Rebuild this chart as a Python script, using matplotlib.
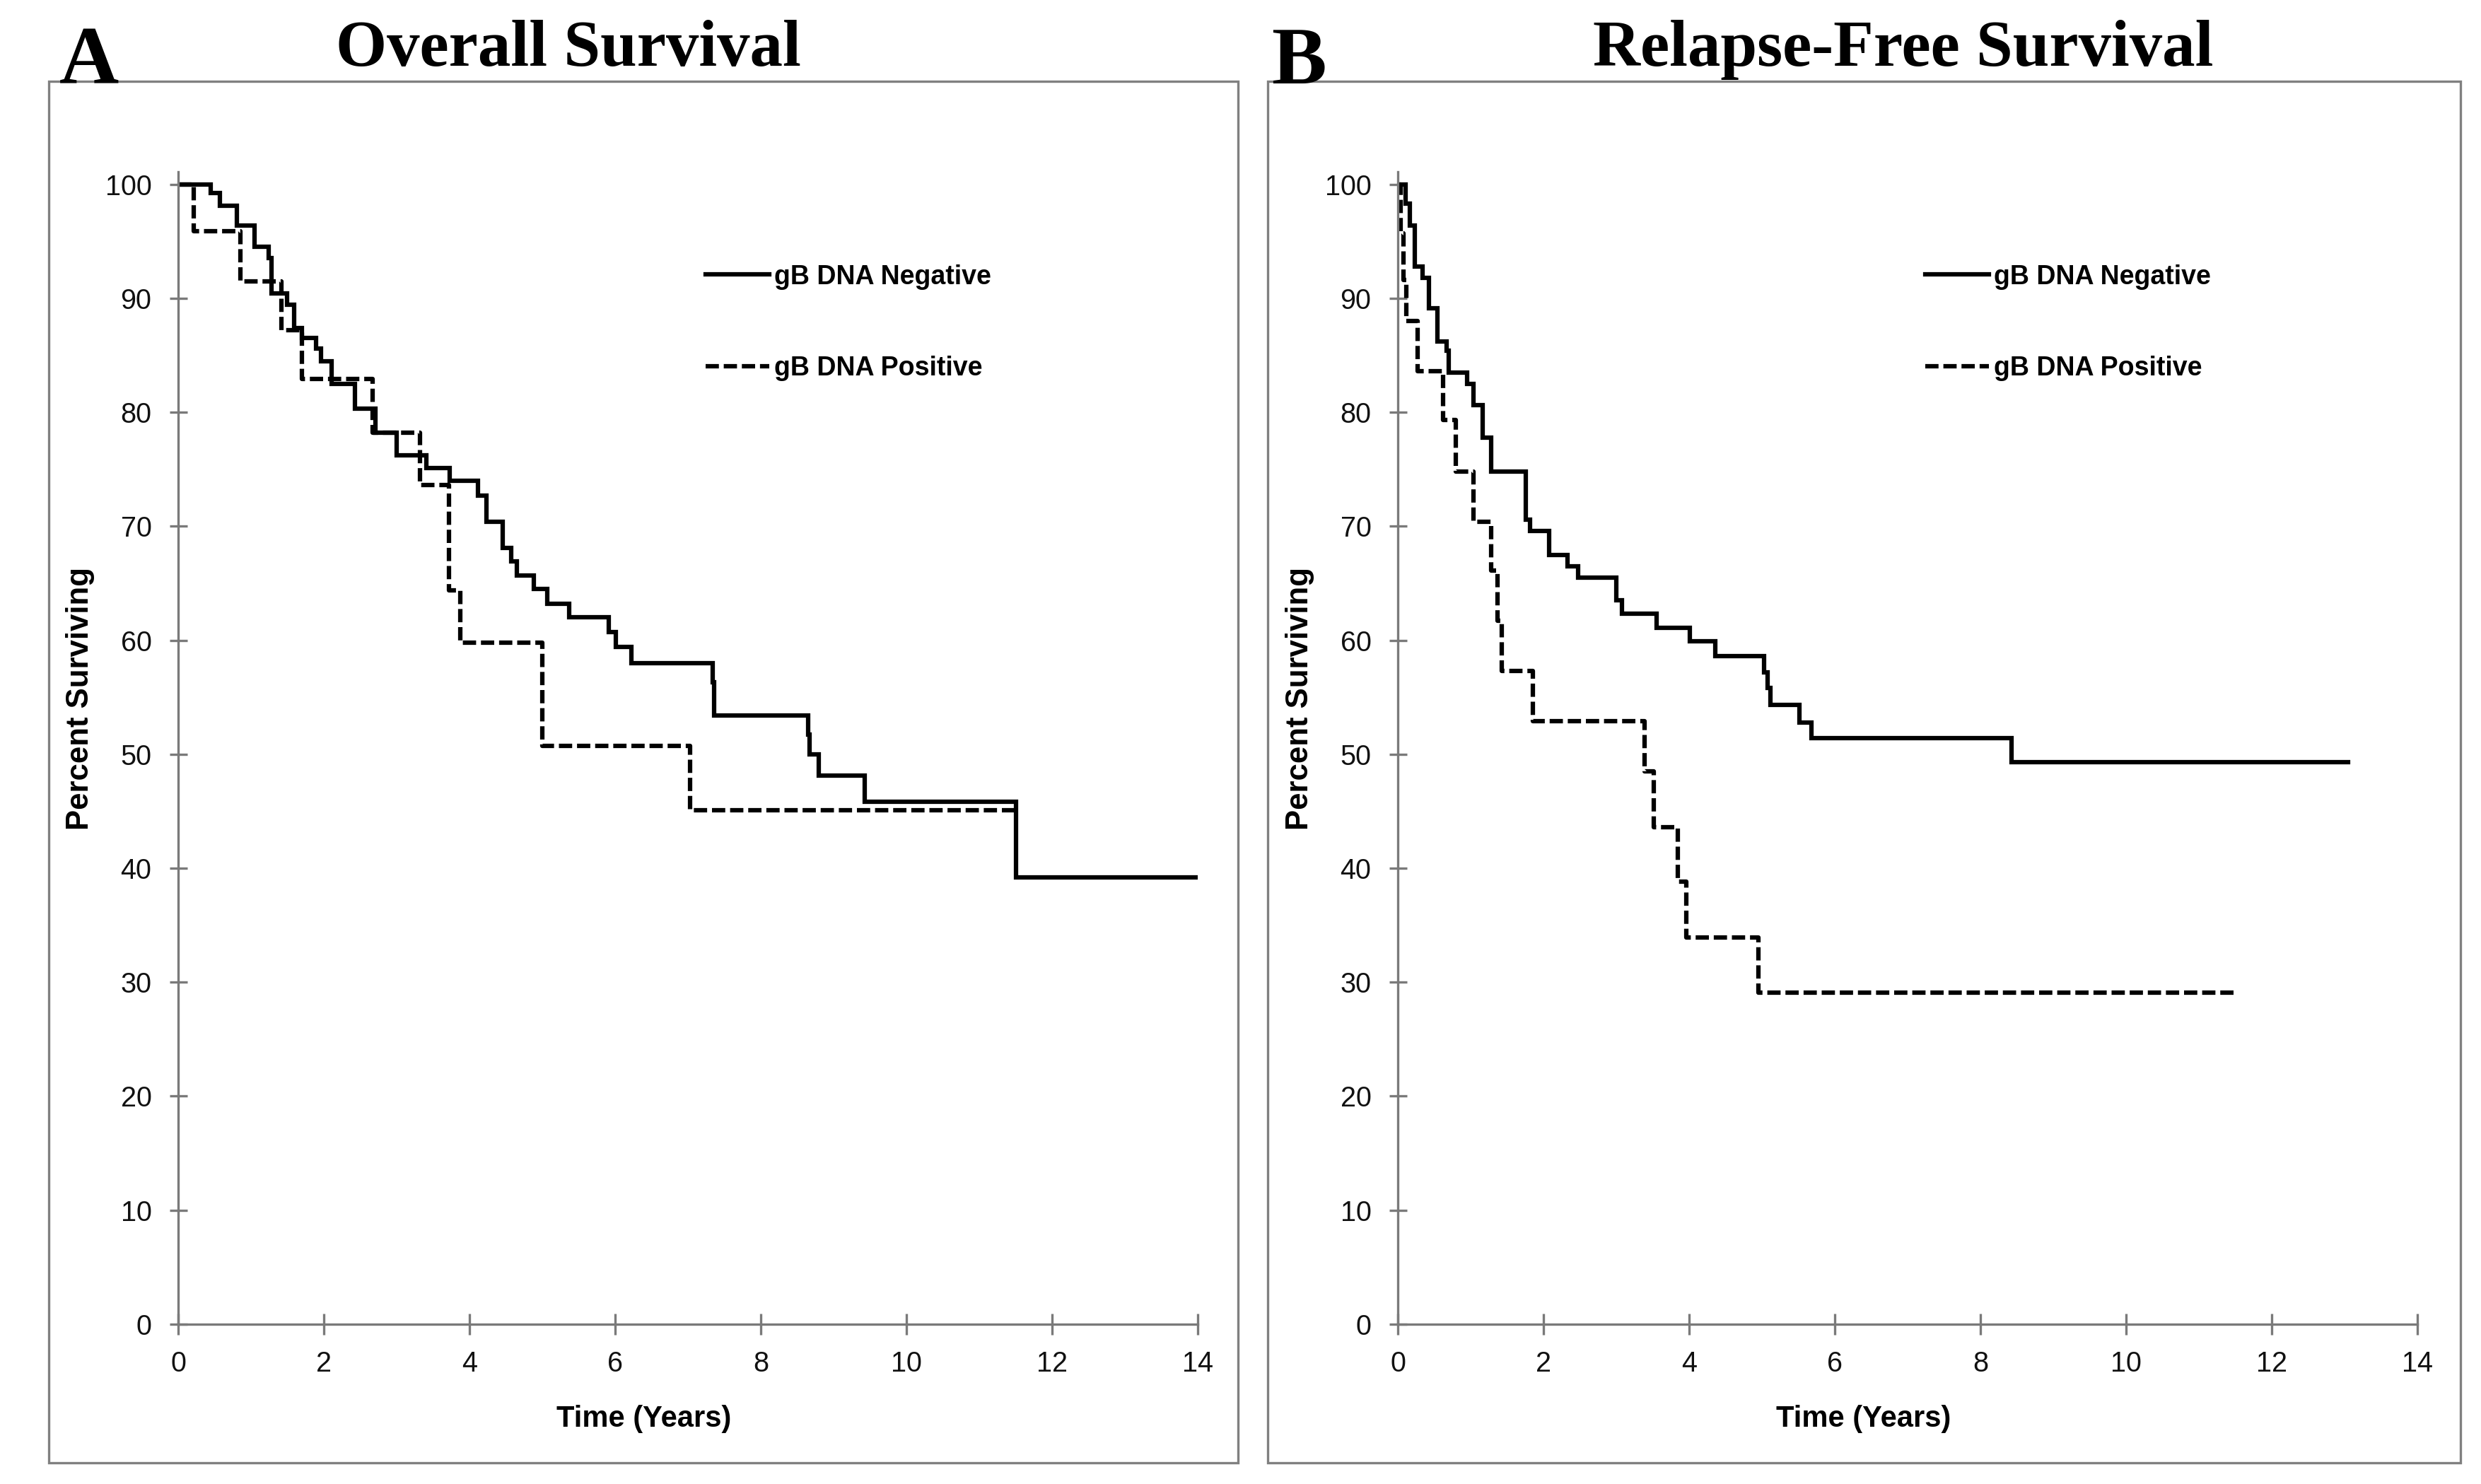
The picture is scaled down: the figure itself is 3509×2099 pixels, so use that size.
import matplotlib
matplotlib.use("Agg")
import matplotlib.pyplot as plt
from matplotlib.patches import Rectangle

# Overall survival, step curves (time in years, percent surviving)
os_neg_time = [0, 0.45, 0.57, 0.81, 1.05, 1.24, 1.28, 1.50, 1.59, 1.70, 1.89, 1.96,
               2.11, 2.43, 2.71, 3.00, 3.41, 3.73, 4.12, 4.23, 4.46, 4.57, 4.65,
               4.88, 5.07, 5.37, 5.91, 6.01, 6.22, 7.34, 7.36, 8.65, 8.67, 8.80,
               9.43, 11.50, 14.0]
os_neg_pct = [100, 99.2, 98.1, 96.4, 94.5, 93.5, 90.4, 89.4, 87.4, 86.5, 85.6, 84.5,
              82.5, 80.3, 78.2, 76.2, 75.1, 74.0, 72.7, 70.4, 68.1, 66.9, 65.7,
              64.5, 63.2, 62.0, 60.7, 59.4, 58.0, 56.3, 53.4, 51.7, 50.0, 48.1,
              45.8, 39.2, 39.2]

os_pos_time = [0, 0.21, 0.85, 1.42, 1.70, 2.67, 3.32, 3.72, 3.87, 5.00, 7.03, 11.55]
os_pos_pct = [100, 95.9, 91.5, 87.2, 82.9, 78.2, 73.6, 64.4, 59.8, 50.7, 45.1, 45.1]

# Relapse-free survival
rfs_neg_time = [0, 0.11, 0.17, 0.23, 0.34, 0.43, 0.54, 0.67, 0.70, 0.95, 1.04, 1.17,
                1.28, 1.76, 1.82, 2.08, 2.33, 2.48, 3.00, 3.08, 3.55, 4.01, 4.36,
                5.03, 5.08, 5.12, 5.51, 5.68, 8.43, 13.05]
rfs_neg_pct = [100, 98.3, 96.4, 92.8, 91.8, 89.1, 86.2, 85.4, 83.5, 82.5, 80.6, 77.8,
               74.8, 70.6, 69.6, 67.5, 66.5, 65.5, 63.5, 62.3, 61.1, 59.9, 58.6,
               57.2, 55.8, 54.3, 52.8, 51.4, 49.3, 49.3]

rfs_pos_time = [0, 0.04, 0.08, 0.12, 0.27, 0.62, 0.80, 1.04, 1.28, 1.37, 1.43, 1.85,
                3.39, 3.51, 3.84, 3.96, 4.95, 11.5]
rfs_pos_pct = [100, 95.7, 91.6, 88.0, 83.6, 79.3, 74.8, 70.4, 66.1, 61.7, 57.3, 52.9,
               48.5, 43.6, 38.8, 33.9, 29.1, 29.1]

x_ticks = [0, 2, 4, 6, 8, 10, 12, 14]
y_ticks = [0, 10, 20, 30, 40, 50, 60, 70, 80, 90, 100]
legend_labels = ["gB DNA Negative", "gB DNA Positive"]

panels = [
    ("A", "Overall Survival", os_neg_time, os_neg_pct, os_pos_time, os_pos_pct),
    ("B", "Relapse-Free Survival", rfs_neg_time, rfs_neg_pct, rfs_pos_time, rfs_pos_pct),
]

sans = ["Liberation Sans", "DejaVu Sans"]
serif = ["Liberation Serif", "DejaVu Serif"]
axis_grey = "#7a7a7a"

fig = plt.figure(figsize=(3509 / 300, 2099 / 300), dpi=300)

axes_left = [0.0718, 0.5634]
frame_left = [0.0197, 0.511]
frame_right = [0.499, 0.9917]
letter_x = [0.036, 0.5235]
title_x = [0.229, 0.767]

for i, (letter, title, nt, npct, pt, ppct) in enumerate(panels):
    # panel frame
    fig.add_artist(Rectangle((frame_left[i], 0.0143), frame_right[i] - frame_left[i],
                             0.9452 - 0.0143, transform=fig.transFigure, fill=False,
                             edgecolor="#808080", linewidth=0.8))
    fig.text(letter_x[i], 0.9438, letter, family=serif, weight="bold", fontsize=28,
             ha="center", va="baseline")
    fig.text(title_x[i], 0.9557, title, family=serif, weight="bold", fontsize=22.3,
             ha="center", va="baseline")

    ax = fig.add_axes([axes_left[i], 0.1077, 0.411, 0.7766])
    ax.step(nt, npct, where="post", color="black", linewidth=1.5,
            solid_joinstyle="miter", label=legend_labels[0])
    ax.step(pt, ppct, where="post", color="black", linewidth=1.5,
            linestyle=(0, (3.0, 1.1)), label=legend_labels[1])

    ax.set_xlim(0, 14)
    ax.set_ylim(0, 101.1)
    ax.set_xticks(x_ticks)
    ax.set_yticks(y_ticks)
    for s in ["top", "right"]:
        ax.spines[s].set_visible(False)
    for s in ["left", "bottom"]:
        ax.spines[s].set_color(axis_grey)
        ax.spines[s].set_linewidth(0.8)
    ax.tick_params(axis="y", direction="inout", length=6, width=0.8, color=axis_grey,
                   pad=6, labelsize=9.5, labelcolor="#111111")
    ax.tick_params(axis="x", direction="inout", length=7, width=0.8, color=axis_grey,
                   pad=5.5, labelsize=9.5, labelcolor="#111111")
    for lab in ax.get_xticklabels() + ax.get_yticklabels():
        lab.set_family(sans)

    ax.set_ylabel("Percent Surviving", family=sans, weight="bold", fontsize=10.5)
    ax.yaxis.set_label_coords(-0.082, 0.543)
    ax.set_xlabel("Time (Years)", family=sans, weight="bold", fontsize=10)
    ax.xaxis.set_label_coords(0.457, -0.07)

    leg = ax.legend(loc="center left", bbox_to_anchor=(0.517, 0.869), frameon=False,
                    prop={"family": sans, "weight": "bold", "size": 9},
                    handlelength=2.4, handletextpad=0.2, labelspacing=2.5,
                    borderpad=0, borderaxespad=0)

fig.savefig("out.png", dpi=300)
